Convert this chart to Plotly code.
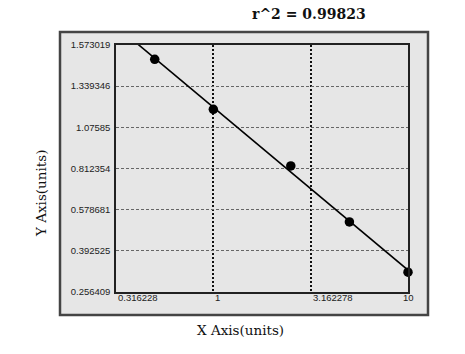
import numpy as np
import plotly.graph_objects as go

# ---- data ----
x_vals = [0.5, 1.0, 2.5, 5.0, 10.0]
y_vals = [1.492, 1.191, 0.8285, 0.523, 0.322]
y_tick_labels = ["1.573019", "1.339346", "1.07585", "0.812354", "0.578681", "0.392525", "0.256409"]
y_tick_values = [1.573019, 1.339346, 1.07585, 0.812354, 0.578681, 0.392525, 0.256409]
x_tick_values = [0.316228, 1, 3.162278, 10]
x_tick_labels = ["0.316228", "1", "3.162278", "10"]
r2_text = "r^2 = 0.99823"

# y axis of the source is evenly spaced per tick -> map values to tick index
tv = np.array(y_tick_values)[::-1]
ti = np.arange(len(y_tick_values))[::-1].astype(float)
def ypos(v):
    return np.interp(v, tv, ti)

yp = ypos(np.array(y_vals))
lx = np.log10(np.array(x_vals))
slope, icpt = np.polyfit(lx, yp, 1)
fx = np.array([x_tick_values[0], x_tick_values[-1]])
fy = slope * np.log10(fx) + icpt

fig = go.Figure()
fig.add_trace(go.Scatter(x=fx, y=fy, mode="lines",
                         line=dict(color="black", width=1.6), showlegend=False))
fig.add_trace(go.Scatter(x=x_vals, y=yp, mode="markers",
                         marker=dict(color="black", size=9.5), showlegend=False,
                         cliponaxis=False))

L, R, T, B = 116, 408, 45, 292
W, H = 465, 354
pw, ph = R - L, B - T
def px(xp):
    return (xp - L) / pw
def py(yp_):
    return (B - yp_) / ph

fig.add_shape(type="rect", xref="paper", yref="paper",
              x0=px(60), x1=px(428), y0=py(315), y1=py(32),
              fillcolor="#e6e6e6", line=dict(color="#444", width=2.5), layer="below")

fig.update_layout(
    width=W, height=H,
    margin=dict(l=L, r=W - R, t=T, b=H - B),
    paper_bgcolor="white", plot_bgcolor="#e6e6e6",
    showlegend=False,
)
fig.update_xaxes(type="log", range=[np.log10(x_tick_values[0]), np.log10(x_tick_values[-1])],
                 tickvals=x_tick_values, showticklabels=False, ticks="",
                 showgrid=True, gridcolor="#111", griddash="2px,2px", gridwidth=1.5,
                 showline=True, linecolor="#222", linewidth=1.5, mirror=True, zeroline=False)
fig.update_yaxes(range=[len(y_tick_values) - 1, 0],
                 tickvals=list(range(len(y_tick_values))), ticktext=y_tick_labels,
                 ticks="", tickfont=dict(family="Liberation Sans", size=9.5, color="#222"),
                 ticklabelstandoff=2,
                 showgrid=True, gridcolor="#666", griddash="3px,2px", gridwidth=1,
                 showline=True, linecolor="#222", linewidth=1.5, mirror=True, zeroline=False)

for i, (xv, lab) in enumerate(zip(x_tick_values, x_tick_labels)):
    fig.add_annotation(x=np.log10(xv), y=0, xref="x", yref="paper", yshift=2,
                       text=lab, showarrow=False,
                       xanchor="center" if i == len(x_tick_values) - 1 else "left",
                       yanchor="top", font=dict(family="Liberation Sans", size=9.5, color="#222"))

fig.add_annotation(x=px(309), y=py(14), xref="paper", yref="paper", text="<b>" + r2_text + "</b>",
                   xanchor="center", yanchor="middle",
                   showarrow=False, font=dict(family="DejaVu Serif", size=14, color="#111"))
fig.add_annotation(x=px(240), y=py(330), xref="paper", yref="paper", text="X Axis(units)",
                   xanchor="center", yanchor="middle",
                   showarrow=False, font=dict(family="DejaVu Serif", size=13.5, color="#111"))
fig.add_annotation(x=px(41), y=py(193), xref="paper", yref="paper", text="Y Axis(units)",
                   xanchor="center", yanchor="middle",
                   textangle=-90, showarrow=False,
                   font=dict(family="DejaVu Serif", size=13.5, color="#111"))

fig.write_html("out.html")
